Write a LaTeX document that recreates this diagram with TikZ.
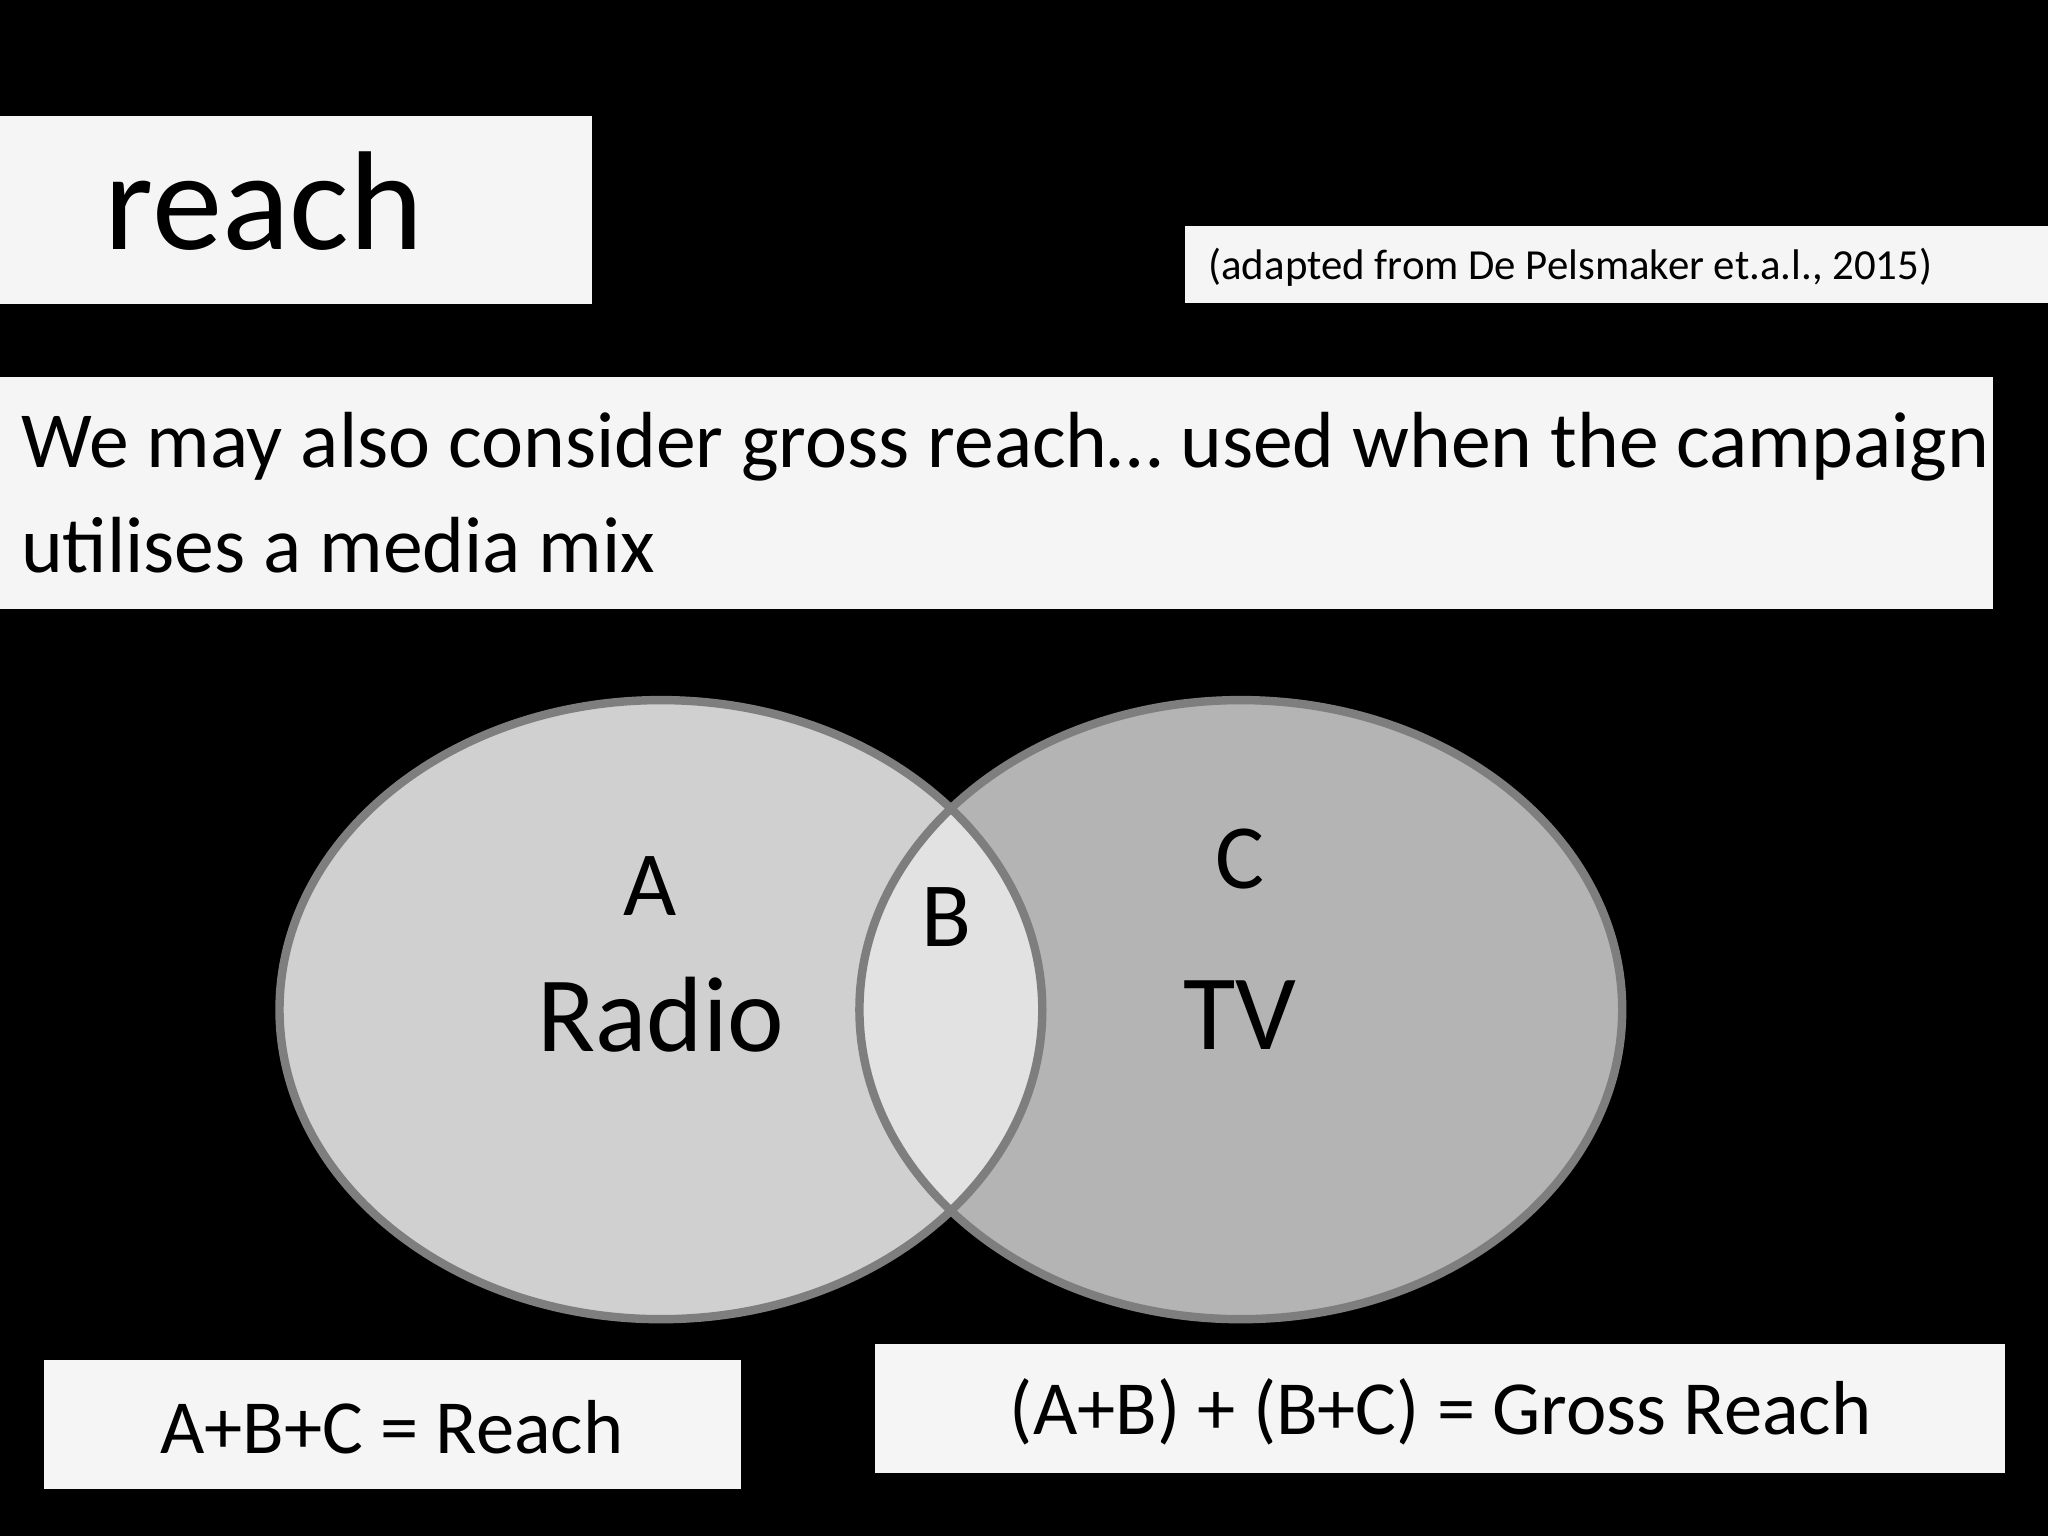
\documentclass[tikz,border=0pt]{standalone}
\usepackage{fontspec}
\setmainfont{Carlito}
\begin{document}
\begin{tikzpicture}[x=0.03cm,y=-0.03cm,
  wbox/.style={fill=boxw,draw=none},
  vt/.style={inner sep=0,text=black}]
\definecolor{boxw}{HTML}{F5F5F5}
\definecolor{lfill}{HTML}{D0D0D0}
\definecolor{rfill}{HTML}{B4B4B4}
\definecolor{ofill}{HTML}{E2E2E2}
\definecolor{rim}{HTML}{7E7E7E}
\fill[black] (0,0) rectangle (1568,1176);
\useasboundingbox (0,0) rectangle (1568,1176);
% title
\fill[boxw] (0,89) rectangle (453,233);
\node[vt,anchor=base west,font=\fontsize{92}{100}\selectfont] (title) at (80,191) {reach};
% citation
\fill[boxw] (907,173) rectangle (1568,232);
\node[vt,anchor=base west,font=\fontsize{28}{32}\selectfont] (cite) at (925,214) {(adapted from De Pelsmaker et.a.l., 2015)};
% text
\fill[boxw] (0,289) rectangle (1526,466);
\node[vt,anchor=base west,font=\fontsize{52}{68}\selectfont] (l1) at (16,358) {We may also consider gross reach… used when the campaign};
\node[vt,anchor=base west,font=\fontsize{52}{68}\selectfont] (l2) at (16,438) {utilises a media mix};
% venn
\fill[lfill] (506,773) ellipse [x radius=292,y radius=237];
\fill[rfill] (950,773) ellipse [x radius=292,y radius=237];
\begin{scope}
\clip (950,773) ellipse [x radius=292,y radius=237];
\fill[ofill] (506,773) ellipse [x radius=292,y radius=237];
\end{scope}
\draw[rim,line width=5.5pt] (506,773) ellipse [x radius=292,y radius=237];
\draw[rim,line width=5.5pt] (950,773) ellipse [x radius=292,y radius=237];
\node[vt,font=\fontsize{60}{70}\selectfont] (A) at (498,678) {A};
\node[vt,font=\fontsize{70}{80}\selectfont] (radio) at (506,777) {Radio};
\node[vt,font=\fontsize{60}{70}\selectfont] (B) at (725,702) {B};
\node[vt,font=\fontsize{60}{70}\selectfont] (C) at (949,658) {C};
\node[vt,font=\fontsize{70}{80}\selectfont] (TV) at (949,777) {TV};
% bottom boxes
\fill[boxw] (34,1041) rectangle (567,1140);
\node[vt,font=\fontsize{50}{60}\selectfont] (reach) at (300,1093) {A+B+C = Reach};
\fill[boxw] (670,1029) rectangle (1535,1128);
\node[vt,font=\fontsize{50}{60}\selectfont] (gross) at (1103,1081) {(A+B) + (B+C) = Gross Reach};
\end{tikzpicture}
\end{document}
